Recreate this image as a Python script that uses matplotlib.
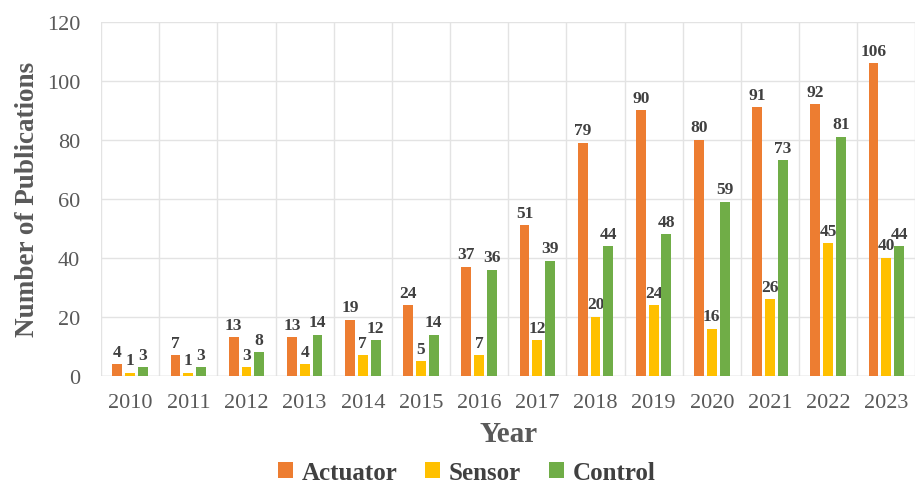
import numpy as np
import matplotlib.pyplot as plt

years = ['2010', '2011', '2012', '2013', '2014', '2015', '2016',
         '2017', '2018', '2019', '2020', '2021', '2022', '2023']
actuator = [4, 7, 13, 13, 19, 24, 37, 51, 79, 90, 80, 91, 92, 106]
sensor = [1, 1, 3, 4, 7, 5, 7, 12, 20, 24, 16, 26, 45, 40]
control = [3, 3, 8, 14, 12, 14, 36, 39, 44, 48, 59, 73, 81, 44]

series = [('Actuator', actuator, '#ED7D31'),
          ('Sensor', sensor, '#FFC000'),
          ('Control', control, '#70AD47')]

serif = ['Liberation Serif', 'DejaVu Serif']
txt = '#404040'

fig = plt.figure(figsize=(9.19, 4.85), dpi=100)
ax = fig.add_axes([0.110, 0.223, 0.886, 0.730])

x = np.arange(len(years))
w = 0.17
gap = 0.05
for i, (name, vals, col) in enumerate(series):
    pos = x + (i - 1) * (w + gap)
    bars = ax.bar(pos, vals, width=w, color=col, label=name, zorder=3)
    for b, v in zip(bars, vals):
        ax.text(b.get_x() + b.get_width() / 2, v + 1.5, str(v), ha='center', va='bottom',
                fontsize=12.5, fontweight='bold', family=serif, color=txt)

ax.set_xlim(-0.5, len(years) - 0.5)
ax.set_ylim(0, 120)
ax.set_yticks(range(0, 121, 20))
ax.set_xticks(x)
ax.set_xticklabels(years)
ax.set_xticks(np.arange(-0.5, len(years), 1), minor=True)
ax.tick_params(which='both', length=0)
ax.tick_params(axis='x', pad=12)
ax.tick_params(axis='y', pad=15)
for lab in ax.get_xticklabels() + ax.get_yticklabels():
    lab.set_fontfamily(serif)
    lab.set_fontsize(16)
    lab.set_color('#595959')

ax.grid(axis='y', color='#e3e3e3', linewidth=1, zorder=0)
ax.grid(axis='x', which='minor', color='#e3e3e3', linewidth=1, zorder=0)
ax.grid(axis='x', which='major', visible=False)
for s in ax.spines.values():
    s.set_visible(False)
ax.axhline(0, color='#d9d9d9', linewidth=1, zorder=2)

ax.set_xlabel('Year', fontsize=21, fontweight='bold', family=serif, color='#595959', labelpad=6)
ax.set_ylabel('Number of Publications', fontsize=19.5, fontweight='bold', family=serif,
              color='#595959', labelpad=5)

fig.legend(loc='center', bbox_to_anchor=(0.508, 0.024), ncol=3, frameon=False,
           prop={'family': serif, 'weight': 'bold', 'size': 18},
           handlelength=0.6, handleheight=0.6, handletextpad=0.35, columnspacing=1.1,
           labelcolor='#404040')

fig.savefig('out.png', dpi=100)
